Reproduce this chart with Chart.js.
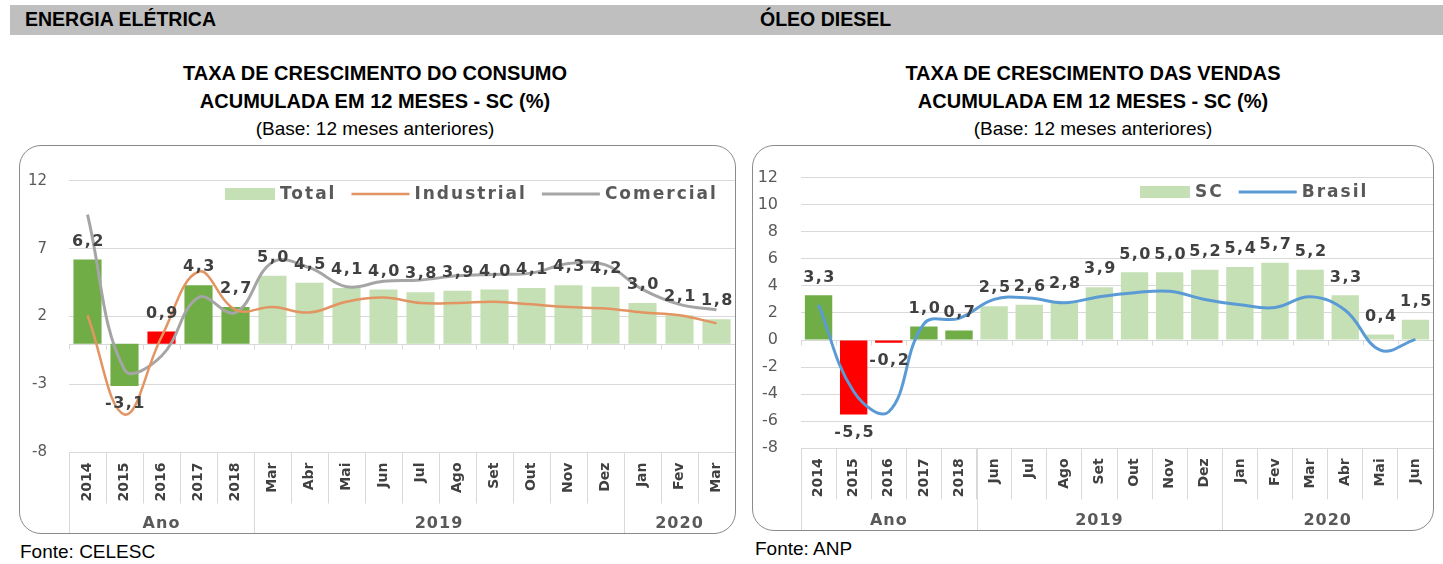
<!DOCTYPE html>
<html>
<head>
<meta charset="utf-8">
<script src="https://cdn.jsdelivr.net/npm/chart.js@4.4.1/dist/chart.umd.min.js"></script>
<style>
  body { margin: 0; background: #fff; width: 1443px; height: 564px; position: relative; overflow: hidden;
         font-family: "Liberation Sans", Arial, sans-serif; color: #000; }
  .band { position: absolute; left: 10px; top: 5px; width: 1433px; height: 30px; background: #bfbfbf; }
  .hd { position: absolute; top: 8px; font-size: 19.5px; font-weight: bold; }
  .title { position: absolute; width: 440px; text-align: center; font-size: 19px; line-height: 27.5px; top: 60px; }
  .title b { display: block; font-size: 20px; }
  .box { position: absolute; border: 1.5px solid #8a8a8a; border-radius: 22px; box-sizing: border-box; pointer-events: none; }
  canvas { position: absolute; }
  .src { position: absolute; font-size: 19px; }
</style>
</head>
<body>
<div class="band"></div>
<div class="hd" style="left:25px">ENERGIA ELÉTRICA</div>
<div class="hd" style="left:760px">ÓLEO DIESEL</div>

<div class="title" style="left:155px"><b>TAXA DE CRESCIMENTO DO CONSUMO</b><b>ACUMULADA EM 12 MESES - SC (%)</b>(Base: 12 meses anteriores)</div>
<div class="title" style="left:873px"><b>TAXA DE CRESCIMENTO DAS VENDAS</b><b>ACUMULADA EM 12 MESES - SC (%)</b>(Base: 12 meses anteriores)</div>

<canvas id="energia" width="717" height="389" style="left:19px;top:145px"></canvas>
<div class="box" style="left:19px;top:145px;width:717px;height:389px"></div>
<canvas id="diesel" width="682" height="386" style="left:752px;top:145px"></canvas>
<div class="box" style="left:752px;top:145px;width:682px;height:386px"></div>

<div class="src" style="left:20px;top:541px">Fonte: CELESC</div>
<div class="src" style="left:755px;top:538px">Fonte: ANP</div>

<script>
// Energia elétrica
const energiaLabels = ['2014', '2015', '2016', '2017', '2018', 'Mar', 'Abr', 'Mai', 'Jun', 'Jul', 'Ago', 'Set', 'Out', 'Nov', 'Dez', 'Jan', 'Fev', 'Mar'];
const energiaTotal = [6.2, -3.1, 0.9, 4.3, 2.7, 5.0, 4.5, 4.1, 4.0, 3.8, 3.9, 4.0, 4.1, 4.3, 4.2, 3.0, 2.1, 1.8];
const energiaIndustrial = [2.1, -5.2, 0.5, 5.3, 2.5, 2.7, 2.3, 3.1, 3.4, 3.0, 3.0, 3.1, 2.9, 2.7, 2.6, 2.3, 2.1, 1.5];
const energiaComercial = [9.5, -1.9, -0.9, 3.4, 2.3, 6.0, 5.6, 4.2, 4.6, 4.7, 5.0, 5.1, 5.2, 5.9, 5.8, 4.0, 2.9, 2.5];
const energiaGroups = ['Ano', '2019', '2020'];
const energiaGroupSizes = [5, 10, 3];

// Óleo diesel
const dieselLabels = ['2014', '2015', '2016', '2017', '2018', 'Jun', 'Jul', 'Ago', 'Set', 'Out', 'Nov', 'Dez', 'Jan', 'Fev', 'Mar', 'Abr', 'Mai', 'Jun'];
const dieselSC = [3.3, -5.5, -0.2, 1.0, 0.7, 2.5, 2.6, 2.8, 3.9, 5.0, 5.0, 5.2, 5.4, 5.7, 5.2, 3.3, 0.4, 1.5];
const dieselBrasil = [2.6, -3.8, -5.3, 1.2, 1.6, 3.0, 3.1, 2.75, 3.2, 3.5, 3.6, 3.0, 2.6, 2.4, 3.2, 2.2, -0.75, 0.05];
const dieselGroups = ['Ano', '2019', '2020'];
const dieselGroupSizes = [5, 7, 6];

const DARK = '#70AD47', LIGHT = '#C5E0B4', RED = '#FF0000';
const energiaColors = [DARK, DARK, RED, DARK, DARK].concat(Array(13).fill(LIGHT));
const dieselColors = [DARK, RED, RED, DARK, DARK].concat(Array(13).fill(LIGHT));

Chart.defaults.font.family = '"DejaVu Sans", sans-serif';
Chart.defaults.animation = false;

const fmt = v => v.toFixed(1).replace('.', ',');

// excel-like extras: zero axis with ticks, value labels, category groups, legend
const excelLook = {
  id: 'excelLook',
  beforeDatasetsDraw(chart) {
    const { ctx, chartArea: a, scales: { x, y } } = chart;
    const y0 = Math.round(y.getPixelForValue(0)) + 0.5;
    const step = x.getPixelForValue(1) - x.getPixelForValue(0);
    ctx.save();
    ctx.strokeStyle = '#d9d9d9';
    ctx.lineWidth = 1;
    ctx.beginPath();
    ctx.moveTo(a.left, y0);
    ctx.lineTo(a.right, y0);
    for (let i = 0; i <= chart.data.labels.length; i++) {
      const px = Math.round(x.getPixelForValue(i) - step / 2) + 0.5;
      ctx.moveTo(px, y0);
      ctx.lineTo(px, y0 + 5);
    }
    ctx.stroke();
    ctx.restore();
  },
  afterDatasetsDraw(chart) {
    const { ctx } = chart;
    const meta = chart.getDatasetMeta(0);
    const vals = chart.data.datasets[0].data;
    ctx.save();
    ctx.font = 'bold 16px "DejaVu Sans"';
    ctx.letterSpacing = '1.5px';
    ctx.fillStyle = '#404040';
    ctx.textAlign = 'center';
    ctx.textBaseline = 'middle';
    meta.data.forEach((bar, i) => {
      const v = vals[i];
      ctx.fillText(fmt(v), bar.x + 1, v >= 0 ? bar.y - 18 : bar.y + 18);
    });
    ctx.restore();
  },
  afterDraw(chart, args, opts) {
    const { ctx, chartArea: a, scales: { x } } = chart;
    const step = x.getPixelForValue(1) - x.getPixelForValue(0);
    ctx.save();
    // group row
    ctx.strokeStyle = '#d9d9d9';
    ctx.lineWidth = 1;
    ctx.font = 'bold 16px "DejaVu Sans"';
    ctx.letterSpacing = '1px';
    ctx.fillStyle = '#595959';
    ctx.textAlign = 'center';
    ctx.textBaseline = 'middle';
    let start = 0;
    opts.groups.forEach((g, gi) => {
      const left = x.getPixelForValue(start) - step / 2;
      const right = x.getPixelForValue(start + opts.sizes[gi] - 1) + step / 2;
      const px = Math.round(left) + 0.5;
      ctx.beginPath();
      ctx.moveTo(px, a.bottom);
      ctx.lineTo(px, chart.height);
      ctx.stroke();
      ctx.fillText(g, (left + right) / 2, opts.groupY);
      start += opts.sizes[gi];
    });
    // legend
    ctx.font = 'bold 17px "DejaVu Sans"';
    ctx.letterSpacing = '2px';
    ctx.textAlign = 'left';
    let lx = opts.legendX;
    const ly = opts.legendY;
    chart.data.datasets.forEach(ds => {
      if (ds.type === 'line') {
        ctx.strokeStyle = ds.borderColor;
        ctx.lineWidth = ds.borderWidth;
        ctx.beginPath();
        ctx.moveTo(lx, ly);
        ctx.lineTo(lx + 58, ly);
        ctx.stroke();
        lx += 63;
      } else {
        ctx.fillStyle = LIGHT;
        ctx.fillRect(lx, ly - 6, 50, 12);
        lx += 55;
      }
      ctx.fillStyle = '#595959';
      ctx.fillText(ds.label, lx, ly + 1);
      lx += ctx.measureText(ds.label).width + 15;
    });
    ctx.restore();
  }
};

function makeChart(id, cfg) {
  return new Chart(document.getElementById(id), {
    data: {
      labels: cfg.labels,
      datasets: [
        { type: 'bar', label: cfg.barLabel, data: cfg.bars, backgroundColor: cfg.colors,
          barPercentage: cfg.barPct, categoryPercentage: 1, order: 1 },
        ...cfg.lines.map(l => ({
          type: 'line', label: l.label, data: l.data, borderColor: l.color, borderWidth: l.width,
          pointRadius: 0, tension: 0.4, fill: false, order: 0
        }))
      ]
    },
    options: {
      responsive: false,
      layout: { padding: { top: cfg.padTop, right: 1, left: 0, bottom: 0 } },
      plugins: {
        legend: { display: false },
        tooltip: { enabled: false },
        excelLook: { groups: cfg.groups, sizes: cfg.groupSizes, groupY: cfg.groupY,
                     legendX: cfg.legendX, legendY: cfg.legendY }
      },
      scales: {
        x: {
          grid: { offset: true, drawOnChartArea: false, tickLength: 51, color: '#d9d9d9' },
          border: { color: '#d9d9d9' },
          ticks: { minRotation: 90, maxRotation: 90, autoSkip: false, padding: -41,
                   color: '#404040', font: { weight: 'bold', size: 14 } },
          afterFit(s) { s.height = cfg.xHeight; }
        },
        y: {
          min: -8, max: 12,
          ticks: { stepSize: cfg.step, padding: cfg.yPad, color: '#595959', font: { size: cfg.yFont } },
          grid: { color: '#d9d9d9', drawTicks: false },
          border: { display: false },
          afterFit(s) { s.width = cfg.yWidth; }
        }
      }
    },
    plugins: [excelLook]
  });
}

makeChart('energia', {
  labels: energiaLabels, barLabel: 'Total', bars: energiaTotal, colors: energiaColors, barPct: 0.76,
  lines: [
    { label: 'Industrial', data: energiaIndustrial, color: '#E29462', width: 2.5 },
    { label: 'Comercial', data: energiaComercial, color: '#A5A5A5', width: 3 }
  ],
  groups: energiaGroups, groupSizes: energiaGroupSizes, groupY: 379,
  legendX: 206, legendY: 49, padTop: 35.7, xHeight: 81.5, step: 5, yPad: 22, yFont: 15, yWidth: 50
});

makeChart('diesel', {
  labels: dieselLabels, barLabel: 'SC', bars: dieselSC, colors: dieselColors, barPct: 0.78,
  lines: [
    { label: 'Brasil', data: dieselBrasil, color: '#5B9BD5', width: 3 }
  ],
  groups: dieselGroups, groupSizes: dieselGroupSizes, groupY: 376,
  legendX: 388, legendY: 47, padTop: 8.3, xHeight: 82.7, step: 2, yPad: 23, yFont: 16, yWidth: 49
});
</script>
</body>
</html>
